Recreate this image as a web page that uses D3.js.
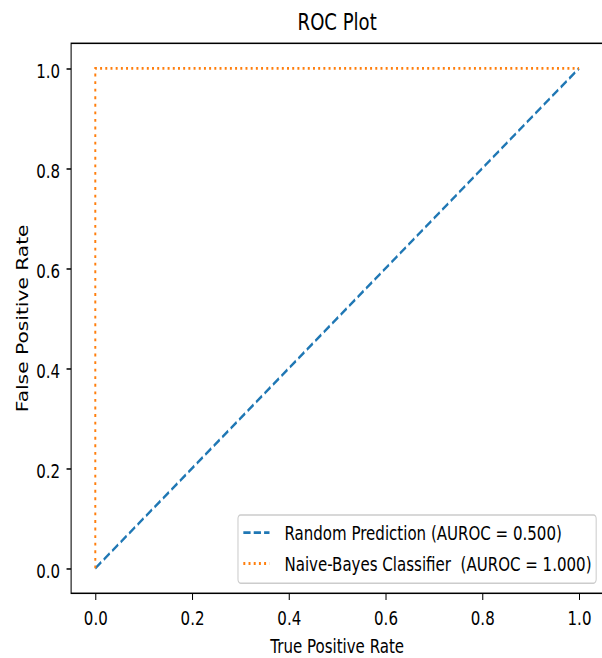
<!DOCTYPE html>
<html>
<head>
<meta charset="utf-8">
<script src="https://cdn.jsdelivr.net/npm/d3@7"></script>
<style>
  html, body { margin: 0; padding: 0; background: #fff; }
  svg { display: block; }
  text { font-family: "DejaVu Sans", sans-serif; fill: #000; }
</style>
</head>
<body>
<div id="chart"></div>
<script>
// ---- data ----
const randomX = [0, 1];
const randomY = [0, 1];
const nbX = [0, 0, 1];
const nbY = [0, 1, 1];
const seriesLabels = ["Random Prediction (AUROC = 0.500)", "Naive-Bayes Classifier  (AUROC = 1.000)"];
const xTicks = [0, 0.2, 0.4, 0.6, 0.8, 1.0];
const yTicks = [0, 0.2, 0.4, 0.6, 0.8, 1.0];
const titleText = "ROC Plot";
const xLabel = "True Positive Rate";
const yLabel = "False Positive Rate";

// virtual canvas (stretched to window)
const VW = 640, VH = 480;
const axL = 75.6, axR = 641.3, axT = 31.6, axB = 432.8;
const SX = 1.15; // horizontal text stretch

const svg = d3.select("#chart").append("svg")
  .attr("width", 602).attr("height", 658)
  .attr("viewBox", `0 0 ${VW} ${VH}`)
  .attr("preserveAspectRatio", "none");

const x = d3.scaleLinear().domain([-0.05, 1.05]).range([axL, axR]);
const y = d3.scaleLinear().domain([-0.05, 1.05]).range([axB, axT]);

const blue = "#1f77b4", orange = "#ff7f0e";
const lw = 2.08;

// lines
const line = d3.line().x(d => x(d[0])).y(d => y(d[1]));
svg.append("path")
  .datum(randomX.map((v, i) => [v, randomY[i]]))
  .attr("d", line).attr("fill", "none")
  .attr("stroke", blue).attr("stroke-width", lw)
  .attr("stroke-dasharray", "7.7,3.33");
svg.append("path")
  .datum(nbX.map((v, i) => [v, nbY[i]]))
  .attr("d", line).attr("fill", "none")
  .attr("stroke", orange).attr("stroke-width", lw)
  .attr("stroke-dasharray", "2.08,3.44");

// axes
const fs = 13.9;
const xAxis = svg.append("g").attr("transform", `translate(0,${axB})`)
  .call(d3.axisBottom(x).tickValues(xTicks).tickFormat(d3.format(".1f")).tickSize(4.86).tickSizeOuter(0));
xAxis.select(".domain").remove();
xAxis.selectAll(".tick line").attr("stroke", "#000").attr("stroke-width", 1.11);
xAxis.selectAll(".tick text").attr("y", 23.2).attr("dy", null)
  .attr("transform", `scale(${SX},1)`)
  .style("font-size", fs + "px").style("font-family", "DejaVu Sans");

const yAxis = svg.append("g").attr("transform", `translate(${axL},0)`)
  .call(d3.axisLeft(y).tickValues(yTicks).tickFormat(d3.format(".1f")).tickSize(4.86).tickSizeOuter(0));
yAxis.select(".domain").remove();
yAxis.selectAll(".tick line").attr("stroke", "#000").attr("stroke-width", 1.11);
yAxis.selectAll(".tick text").attr("x", -10.1).attr("dy", "0.45em")
  .attr("transform", `scale(${SX},1)`)
  .style("font-size", fs + "px").style("font-family", "DejaVu Sans");

// spines
svg.append("rect").attr("x", axL).attr("y", axT)
  .attr("width", axR - axL).attr("height", axB - axT)
  .attr("fill", "none").attr("stroke", "#000").attr("stroke-width", 1.11);

// title and labels
svg.append("text").attr("transform", `translate(${(axL + axR) / 2},22) scale(${SX},1)`)
  .attr("text-anchor", "middle").style("font-size", "16.7px").text(titleText);
svg.append("text").attr("transform", `translate(${(axL + axR) / 2},476.5) scale(${SX},1)`)
  .attr("text-anchor", "middle").style("font-size", fs + "px").text(xLabel);
svg.append("text").attr("transform", `translate(29.5,${(axT + axB) / 2}) rotate(-90) scale(1.06,1.15)`)
  .attr("text-anchor", "middle").style("font-size", fs + "px").text(yLabel);

// legend
const lg = svg.append("g");
lg.append("rect").attr("x", 253).attr("y", 375.7).attr("width", 633.8 - 253).attr("height", 425.4 - 375.7)
  .attr("rx", 2.8).attr("ry", 2.8)
  .attr("fill", "#fff").attr("fill-opacity", 0.8)
  .attr("stroke", "#cccccc").attr("stroke-width", 1.11);
const baselines = [393.8, 416.4];
const dashes = ["7.7,3.33", "2.08,3.44"];
const cols = [blue, orange];
seriesLabels.forEach((lab, i) => {
  lg.append("line").attr("x1", 258.7).attr("x2", 286.5)
    .attr("y1", baselines[i] - 5.3).attr("y2", baselines[i] - 5.3)
    .attr("stroke", cols[i]).attr("stroke-width", lw).attr("stroke-dasharray", dashes[i]);
  lg.append("text").attr("transform", `translate(302.4,${baselines[i]}) scale(${SX},1)`)
    .style("font-size", fs + "px").style("white-space", "pre").text(lab);
});
</script>
</body>
</html>
